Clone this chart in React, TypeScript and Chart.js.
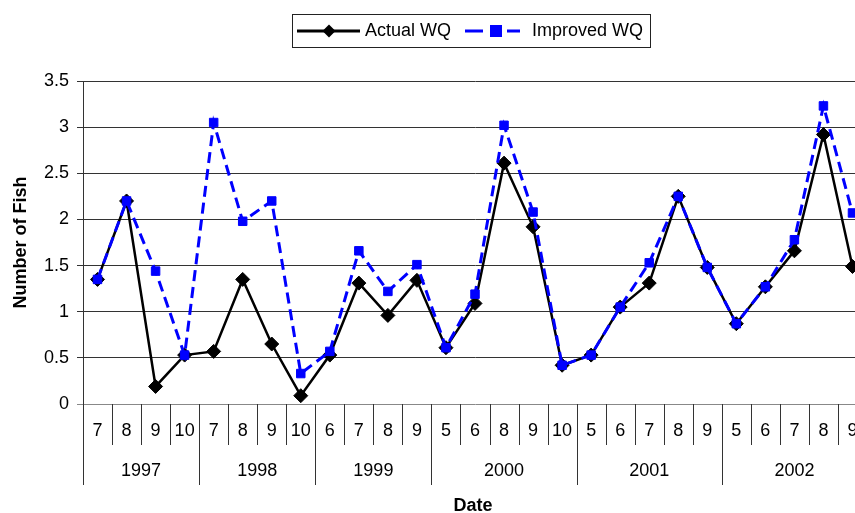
import React, { useEffect, useRef } from "react";
import { Chart, registerables } from "chart.js";

Chart.register(...registerables);

const months = ["7", "8", "9", "10", "7", "8", "9", "10", "6", "7", "8", "9", "5", "6", "8", "9", "10", "5", "6", "7", "8", "9", "5", "6", "7", "8", "9"];
const yearLabels = ["1997", "1998", "1999", "2000", "2001", "2002"];
const yearSpans = [4, 4, 4, 5, 5, 5];
const actualWQ = [1.35, 2.2, 0.19, 0.53, 0.57, 1.35, 0.65, 0.09, 0.53, 1.31, 0.96, 1.34, 0.61, 1.09, 2.61, 1.92, 0.42, 0.53, 1.05, 1.31, 2.25, 1.48, 0.87, 1.27, 1.66, 2.92, 1.49];
const improvedWQ = [1.35, 2.2, 1.44, 0.53, 3.05, 1.98, 2.2, 0.33, 0.57, 1.66, 1.22, 1.51, 0.61, 1.19, 3.02, 2.08, 0.42, 0.53, 1.05, 1.53, 2.25, 1.48, 0.87, 1.27, 1.78, 3.23, 2.07];
const seriesNames = ["Actual WQ", "Improved WQ"];
const axisTitleX = "Date";
const axisTitleY = "Number of Fish";

const FONT = "'Liberation Sans', Arial, sans-serif";

const multiLevelAxis = {
  id: "multiLevelAxis",
  afterDraw(chart: any) {
    const ctx = chart.ctx;
    const x = chart.scales.x;
    const area = chart.chartArea;
    const n = months.length;
    const half = (x.getPixelForValue(1) - x.getPixelForValue(0)) / 2;
    const base = area.bottom;
    ctx.save();
    ctx.strokeStyle = "#333";
    ctx.lineWidth = 1;
    const yearStarts: number[] = [];
    let acc = 0;
    for (let k = 0; k < yearSpans.length; k++) {
      yearStarts.push(acc);
      acc += yearSpans[k];
    }
    for (let i = 0; i <= n; i++) {
      const bx = Math.round(x.getPixelForValue(0) + (2 * i - 1) * half) + 0.5;
      const isYear = yearStarts.includes(i) || i === n;
      ctx.beginPath();
      ctx.moveTo(bx, base);
      ctx.lineTo(bx, isYear ? base + 81 : base + 41);
      ctx.stroke();
    }
    ctx.fillStyle = "#000";
    ctx.font = "18px " + FONT;
    ctx.textAlign = "center";
    ctx.textBaseline = "middle";
    for (let i = 0; i < n; i++) {
      ctx.fillText(months[i], x.getPixelForValue(i), base + 27);
    }
    for (let k = 0; k < yearLabels.length; k++) {
      const s = yearStarts[k];
      const e = s + yearSpans[k] - 1;
      const cx = (x.getPixelForValue(s) + x.getPixelForValue(e)) / 2;
      ctx.fillText(yearLabels[k], cx, base + 67);
    }
    ctx.font = "bold 18px " + FONT;
    ctx.fillText(axisTitleX, (area.left + area.right) / 2 - 2, base + 102);
    ctx.restore();
  },
};

const boxedLegend = {
  id: "boxedLegend",
  afterDraw(chart: any) {
    const ctx = chart.ctx;
    ctx.save();
    ctx.strokeStyle = "#222";
    ctx.lineWidth = 1;
    ctx.strokeRect(292.5, 14.5, 358, 33);
    const cy = 31;
    ctx.strokeStyle = "#000";
    ctx.lineWidth = 3;
    ctx.beginPath();
    ctx.moveTo(297, cy);
    ctx.lineTo(360, cy);
    ctx.stroke();
    ctx.fillStyle = "#000";
    ctx.beginPath();
    ctx.moveTo(329, cy - 6.5);
    ctx.lineTo(335.5, cy);
    ctx.lineTo(329, cy + 6.5);
    ctx.lineTo(322.5, cy);
    ctx.closePath();
    ctx.fill();
    ctx.strokeStyle = "#0000FF";
    ctx.fillStyle = "#0000FF";
    ctx.lineWidth = 3;
    ctx.beginPath();
    ctx.moveTo(465, cy);
    ctx.lineTo(483, cy);
    ctx.moveTo(507, cy);
    ctx.lineTo(520, cy);
    ctx.stroke();
    ctx.fillRect(490, cy - 6, 12, 12);
    ctx.fillStyle = "#000";
    ctx.font = "18px " + FONT;
    ctx.textAlign = "left";
    ctx.textBaseline = "middle";
    ctx.fillText(seriesNames[0], 365, cy);
    ctx.fillText(seriesNames[1], 532, cy);
    ctx.restore();
  },
};

export default function App() {
  const ref = useRef<HTMLCanvasElement>(null);
  useEffect(() => {
    if (!ref.current) return;
    Chart.defaults.font.family = FONT;
    const chart = new Chart(ref.current, {
      type: "line",
      data: {
        labels: months,
        datasets: [
          {
            label: seriesNames[0],
            data: actualWQ,
            borderColor: "#000",
            backgroundColor: "#000",
            borderWidth: 2.5,
            pointStyle: "rectRot",
            pointRadius: 7,
            pointBorderWidth: 1,
            tension: 0,
            order: 1,
          },
          {
            label: seriesNames[1],
            data: improvedWQ,
            borderColor: "#0000FF",
            backgroundColor: "#0000FF",
            borderWidth: 3,
            borderDash: [11, 6],
            pointStyle: "rect",
            pointRadius: 6,
            pointBorderWidth: 1,
            tension: 0,
            order: 0,
          },
        ],
      },
      options: {
        animation: false,
        responsive: false,
        devicePixelRatio: 1,
        layout: { padding: { top: 81, right: 5, left: 0, bottom: 0 } },
        plugins: { legend: { display: false }, tooltip: { enabled: false } },
        scales: {
          x: {
            type: "category",
            offset: true,
            ticks: { display: false },
            grid: { display: false },
            border: { display: false },
            afterFit: (s: any) => {
              s.height = 109;
            },
          },
          y: {
            min: 0,
            max: 3.5,
            ticks: {
              stepSize: 0.5,
              color: "#000",
              font: { size: 18 },
              padding: 8,
              callback: (v: any) => String(v),
            },
            grid: {
              color: (c: any) => (c.tick && c.tick.value === 0 ? "#888" : "#333"),
              lineWidth: 1,
              drawTicks: true,
              tickLength: 6,
            },
            border: { display: true, color: "#333", width: 1 },
            title: {
              display: true,
              text: axisTitleY,
              color: "#000",
              font: { size: 18, weight: "bold" },
              padding: { top: 10, bottom: 0 },
            },
            afterFit: (s: any) => {
              s.width = 83;
            },
          },
        },
      },
      plugins: [multiLevelAxis, boxedLegend],
    });
    return () => chart.destroy();
  }, []);
  return (
    <div style={{ position: "fixed", left: 0, top: 0, width: 855, height: 513, overflow: "hidden", background: "#fff" }}>
      <canvas ref={ref} width={875} height={513} style={{ display: "block" }} />
    </div>
  );
}
